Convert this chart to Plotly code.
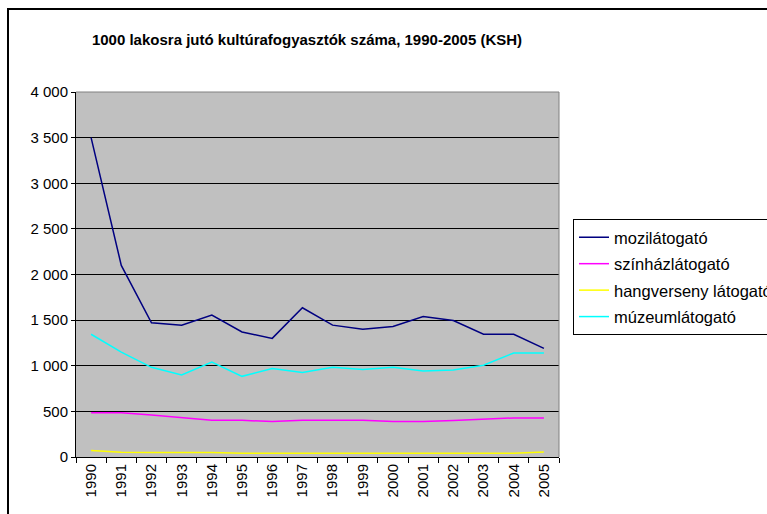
import plotly.graph_objects as go

years = [str(y) for y in range(1990, 2006)]
mozi = [3500, 2100, 1470, 1445, 1555, 1370, 1300, 1635, 1445, 1400, 1430, 1540, 1495, 1345, 1345, 1190]
szinhaz = [486, 486, 460, 432, 402, 402, 388, 402, 402, 402, 388, 388, 399, 413, 428, 428]
hangverseny = [70, 52, 50, 50, 50, 40, 40, 40, 40, 40, 40, 40, 40, 40, 42, 55]
muzeum = [1345, 1150, 983, 899, 1041, 884, 969, 925, 983, 958, 983, 943, 954, 1005, 1140, 1140]

series = [
    ("mozilátogató", mozi, "#000080"),
    ("színházlátogató", szinhaz, "#FF00FF"),
    ("hangverseny látogató", hangverseny, "#FFFF00"),
    ("múzeumlátogató", muzeum, "#00FFFF"),
]

W, H = 767, 514
L, R, T, B = 76, 559, 92, 457

fig = go.Figure()
for i, (name, vals, col) in enumerate(series):
    fig.add_trace(go.Scatter(x=years, y=vals, name=name, mode="lines",
                             line=dict(color=col, width=1.5), legendgroup=f"g{i}"))

def px_x(p):
    return (p - L) / (R - L)

def px_y(p):
    return (B - p) / (B - T)

fig.update_layout(
    width=W, height=H,
    margin=dict(l=L, r=W - R, t=T, b=H - B, autoexpand=False),
    paper_bgcolor="white",
    plot_bgcolor="#C0C0C0",
    separators=", ",
    font=dict(family="Liberation Sans, Arial, sans-serif", size=15, color="black"),
    title=dict(text="<b>1000 lakosra jutó kultúrafogyasztók száma, 1990-2005 (KSH)</b>",
               x=307 / W, xanchor="center", y=1 - 40 / H, yanchor="middle",
               font=dict(size=15, color="black")),
    showlegend=True,
    legend=dict(x=px_x(573), xanchor="left", y=px_y(219), yanchor="top",
                bordercolor="black", borderwidth=1, bgcolor="white",
                font=dict(size=16.5), tracegroupgap=2, traceorder="grouped",
                itemwidth=30),
    xaxis=dict(type="category", range=[-0.5, 15.5], showgrid=False, showline=True,
               linecolor="black", linewidth=1, ticks="outside", ticklen=5,
               tickcolor="black", tickson="boundaries", tickangle=-90,
               tickfont=dict(size=15), fixedrange=True),
    yaxis=dict(range=[0, 4000], dtick=500, tickformat=",d", showgrid=True,
               gridcolor="black", gridwidth=1, showline=True, linecolor="black",
               ticks="outside", ticklen=4, tickcolor="black", zeroline=False,
               tickfont=dict(size=15), fixedrange=True),
    shapes=[
        dict(type="line", xref="paper", yref="paper", x0=1, x1=1, y0=0, y1=1,
             line=dict(color="#808080", width=1)),
        dict(type="line", xref="paper", yref="paper", x0=0, x1=1, y0=1, y1=1,
             line=dict(color="#808080", width=1)),
        dict(type="line", xref="paper", yref="paper",
             x0=px_x(7), x1=px_x(W), y0=px_y(9), y1=px_y(9),
             line=dict(color="black", width=2), layer="above"),
        dict(type="line", xref="paper", yref="paper",
             x0=px_x(8), x1=px_x(8), y0=px_y(8), y1=px_y(H),
             line=dict(color="black", width=2), layer="above"),
    ],
)

fig.write_html("out.html",
               config={"displayModeBar": False},
               post_script="document.body.style.margin='0';document.body.style.overflow='hidden';")
